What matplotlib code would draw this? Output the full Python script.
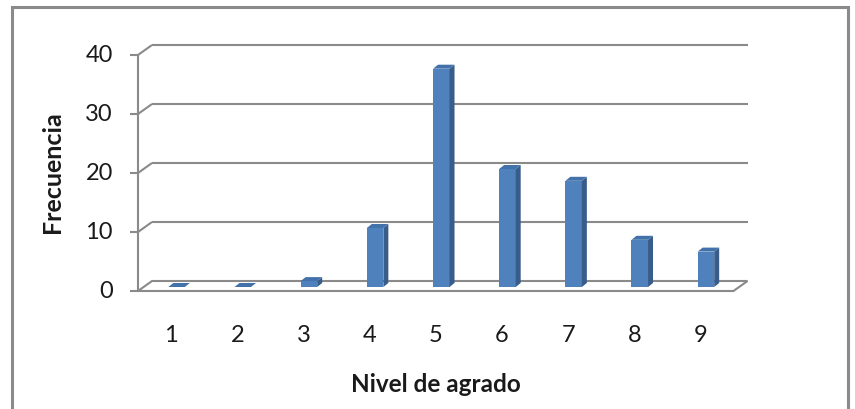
import matplotlib
matplotlib.use("Agg")
import matplotlib.pyplot as plt
from matplotlib.patches import Polygon, Rectangle

# Frecuencia por nivel de agrado
levels = [1, 2, 3, 4, 5, 6, 7, 8, 9]
counts = [0, 0, 1, 10, 37, 20, 18, 8, 6]
y_ticks = [0, 10, 20, 30, 40]

FRONT = "#4F81BD"
SIDE = "#385D8A"
TOP = "#4372AA"
GRID = "#8A8A8A"
TEXT = "#1A1A1A"

plt.rcParams["font.family"] = ["Lato", "DejaVu Sans"]

W, H = 855, 410
fig = plt.figure(figsize=(W / 100, H / 100), dpi=100)

# plane in which the columns stand (pixel box, y measured from top)
L, R, B, T = 143.5, 739.0, 288.0, 52.0
ax = fig.add_axes([L / W, 1 - B / H, (R - L) / W, (B - T) / H])
ax.set_xlim(0.5, 9.5)
ax.set_ylim(0, 40)
ax.axis("off")

ux = (R - L) / 9.0
uy = (B - T) / 40.0


def px(dx, dy):
    """pixel offset -> data offset (dy positive = up)"""
    return dx / ux, dy / uy


bx, by = px(8.5, 6.0)     # back wall
fx, fy = px(-5.5, -4.0)   # front edge
cdx, cdy = px(5.0, 4.0)   # column depth
x0, x1 = 0.5, 9.5

line_kw = dict(color=GRID, lw=1.5, clip_on=False, solid_capstyle="butt")

# floor
ax.add_patch(Polygon([(x0 + fx, fy), (x1 + fx, fy), (x1 + bx, by), (x0 + bx, by)],
                     closed=True, facecolor="white", edgecolor=GRID, lw=1.5,
                     clip_on=False, zorder=1))

# back wall gridlines and side wall diagonals
for v in y_ticks:
    if v > 0:
        ax.plot([x0 + bx, x1 + bx], [v + by, v + by], zorder=1, **line_kw)
        ax.plot([x0 + fx, x0 + bx], [v + fy, v + by], zorder=1, **line_kw)
    tl, _ = px(-8, 0)
    ax.plot([x0 + fx + tl, x0 + fx], [v + fy, v + fy], zorder=1, **line_kw)
    lx, _ = px(-25, 0)
    ax.text(x0 + fx + lx, v + fy, str(v), ha="right", va="center",
            fontsize=17, color=TEXT)

# front value axis
ax.plot([x0 + fx, x0 + fx], [fy, 40 + fy], zorder=1, **line_kw)

# columns
bw = 0.25
ax.bar(levels, counts, width=bw, color=FRONT, edgecolor="none", zorder=3)
for x, h in zip(levels, counts):
    xr = x + bw / 2
    xl = x - bw / 2
    ax.add_patch(Polygon([(xr, 0), (xr + cdx, cdy), (xr + cdx, h + cdy), (xr, h)],
                         closed=True, facecolor=SIDE, edgecolor="none", zorder=3,
                         clip_on=False))
    ax.add_patch(Polygon([(xl, h), (xr, h), (xr + cdx, h + cdy), (xl + cdx, h + cdy)],
                         closed=True, facecolor=TOP, edgecolor="none", zorder=3,
                         clip_on=False))

# category labels
_, cy = px(0, -44)
for x in levels:
    ax.text(x + fx, fy + cy, str(x), ha="center", va="center",
            fontsize=17, color=TEXT)

fig.text(436 / W, 1 - 385 / H, "Nivel de agrado", ha="center", va="center",
         fontsize=17.5, fontweight="bold", color=TEXT)
fig.text(53 / W, 1 - 172 / H, "Frecuencia", ha="center", va="center",
         rotation=90, fontsize=18, fontweight="bold", color=TEXT)

# chart border
fig.add_artist(Rectangle((12 / W, -0.05), (848 - 12) / W, 1 - 8 / H + 0.05,
                         transform=fig.transFigure, fill=False,
                         edgecolor=GRID, lw=2.2))

fig.savefig("out.png", dpi=100)
